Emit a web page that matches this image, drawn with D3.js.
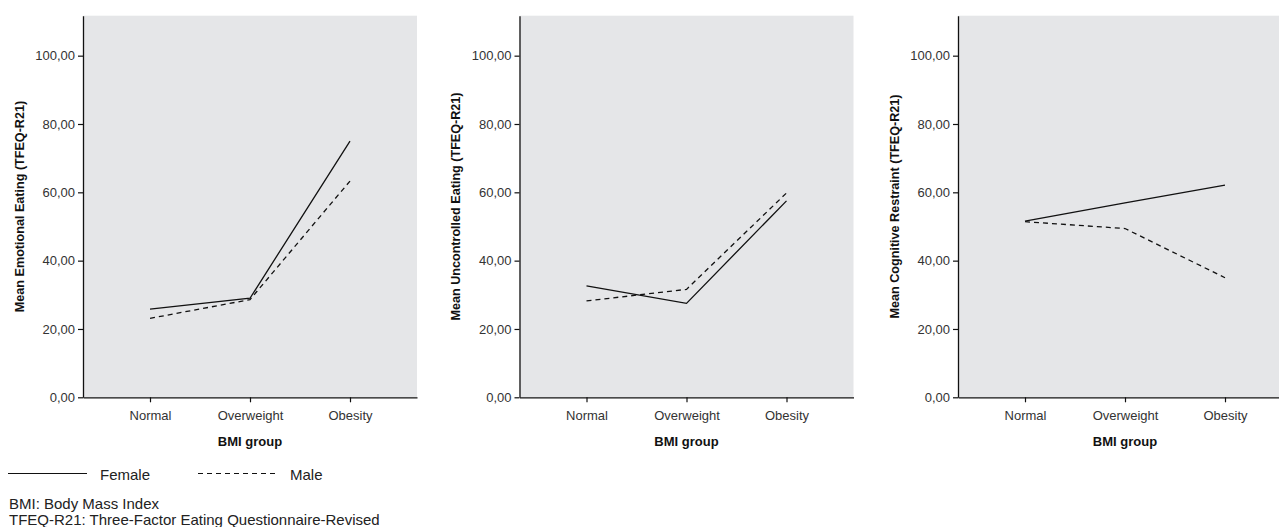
<!DOCTYPE html>
<html>
<head>
<meta charset="utf-8">
<script src="https://cdn.jsdelivr.net/npm/d3@7"></script>
<style>
  html, body { margin: 0; padding: 0; background: #fff; }
  svg { display: block; font-family: 'Liberation Sans', Arial, Helvetica, sans-serif; }
</style>
</head>
<body>
<div id="chart"></div>
<script>
// data
const groups = ['Normal', 'Overweight', 'Obesity'];
const yTicks = [0, 20, 40, 60, 80, 100];
const panelTitles = [
  'Mean Emotional Eating (TFEQ-R21)',
  'Mean Uncontrolled Eating (TFEQ-R21)',
  'Mean Cognitive Restraint (TFEQ-R21)'
];
const femaleValues = [
  [25.8, 29.0, 75.0],
  [32.6, 27.5, 57.5],
  [51.6, 56.9, 62.1]
];
const maleValues = [
  [23.1, 28.6, 63.3],
  [28.2, 31.6, 59.8],
  [51.4, 49.4, 35.0]
];
const footnotes = ['BMI: Body Mass Index', 'TFEQ-R21: Three-Factor Eating Questionnaire-Revised'];

// dimensions
const WIDTH = 1279;
const HEIGHT = 527;
const PANEL_LEFT = [83, 519.5, 958];
const PANEL_WIDTH = 334;
const PLOT_TOP = 15.7;
const PLOT_BOTTOM = 397.3;
const Y_MAX = 111.7;

const locale = d3.formatLocale({ decimal: ',', thousands: '.', grouping: [3], currency: ['', ''] });
const fmt = locale.format('.2f');

const $svg = d3.select('#chart').append('svg')
  .attr('width', WIDTH)
  .attr('height', HEIGHT);

const scaleY = d3.scaleLinear().domain([0, Y_MAX]).range([PLOT_BOTTOM, PLOT_TOP]);

PANEL_LEFT.forEach((left, i) => {
  const scaleX = d3.scalePoint()
    .domain(groups)
    .range([left, left + PANEL_WIDTH])
    .padding(0.67);

  const $g = $svg.append('g').attr('class', 'panel');

  // background
  $g.append('rect')
    .attr('x', left)
    .attr('y', PLOT_TOP)
    .attr('width', PANEL_WIDTH)
    .attr('height', PLOT_BOTTOM - PLOT_TOP)
    .attr('fill', '#e5e6e8');

  // y axis
  const $yAxis = $g.append('g')
    .attr('transform', `translate(${left},0)`)
    .call(d3.axisLeft(scaleY).tickValues(yTicks).tickFormat(fmt).tickSize(5).tickPadding(3).tickSizeOuter(0));
  $yAxis.select('.domain').attr('stroke', '#111').attr('stroke-width', 1.3);
  $yAxis.selectAll('.tick line').attr('stroke', '#111').attr('stroke-width', 1.2);
  $yAxis.selectAll('.tick text').attr('fill', '#333').style('font-size', '13px');

  // x axis
  const $xAxis = $g.append('g')
    .attr('transform', `translate(0,${PLOT_BOTTOM})`)
    .call(d3.axisBottom(scaleX).tickSize(5).tickPadding(8).tickSizeOuter(0));
  $xAxis.select('.domain').attr('stroke', '#111').attr('stroke-width', 1.3);
  $xAxis.selectAll('.tick line').attr('stroke', '#111').attr('stroke-width', 1.2);
  $xAxis.selectAll('.tick text').attr('fill', '#333').style('font-size', '13px');

  // axis titles
  $g.append('text')
    .attr('x', scaleX(groups[1]))
    .attr('y', 446)
    .attr('text-anchor', 'middle')
    .style('font-size', '13px')
    .style('font-weight', 'bold')
    .attr('fill', '#111')
    .text('BMI group');

  $g.append('text')
    .attr('transform', `translate(${left - 63.5},${(PLOT_TOP + PLOT_BOTTOM) / 2}) rotate(-90)`)
    .attr('dy', '0.35em')
    .attr('text-anchor', 'middle')
    .style('font-size', '12.6px')
    .style('font-weight', 'bold')
    .attr('fill', '#111')
    .text(panelTitles[i]);

  // lines
  const line = d3.line()
    .x((d, j) => scaleX(groups[j]))
    .y((d) => scaleY(d));

  $g.append('path')
    .datum(femaleValues[i])
    .attr('d', line)
    .attr('fill', 'none')
    .attr('stroke', '#111')
    .attr('stroke-width', 1.3);

  $g.append('path')
    .datum(maleValues[i])
    .attr('d', line)
    .attr('fill', 'none')
    .attr('stroke', '#111')
    .attr('stroke-width', 1.3)
    .attr('stroke-dasharray', '5,4');
});

// legend
const $legend = $svg.append('g').attr('class', 'legend');
const legendItems = [
  { label: 'Female', x: 8, dash: null },
  { label: 'Male', x: 198, dash: '5,4' }
];
legendItems.forEach((d) => {
  $legend.append('line')
    .attr('x1', d.x)
    .attr('x2', d.x + 79)
    .attr('y1', 473.5)
    .attr('y2', 473.5)
    .attr('stroke', '#111')
    .attr('stroke-width', 1.2)
    .attr('stroke-dasharray', d.dash);
  $legend.append('text')
    .attr('x', d.x + 92)
    .attr('y', 480)
    .style('font-size', '15px')
    .attr('fill', '#222')
    .text(d.label);
});

// footnotes
$svg.append('g')
  .selectAll('text')
  .data(footnotes)
  .join('text')
  .attr('x', 9)
  .attr('y', (d, i) => 509 + i * 15.5)
  .style('font-size', '15px')
  .attr('fill', '#222')
  .text((d) => d);
</script>
</body>
</html>
